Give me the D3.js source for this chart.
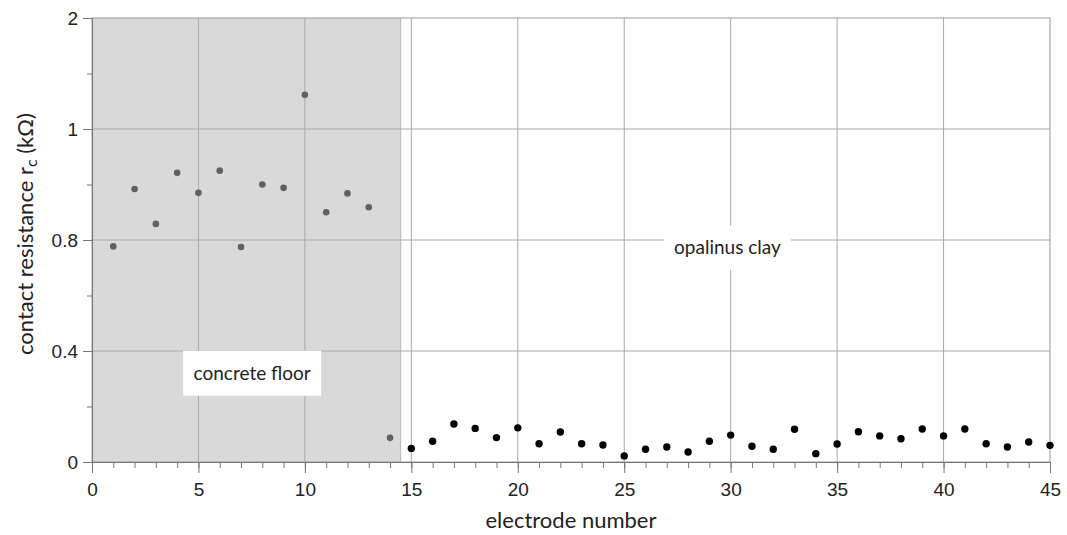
<!DOCTYPE html>
<html>
<head>
<meta charset="utf-8">
<script src="https://cdn.jsdelivr.net/npm/d3@7"></script>
<style>
  body { margin: 0; background: #fff; }
  .tick text { font-family: "Liberation Sans", Arial, sans-serif; font-size: 19px; fill: #222; }
  .title { font-family: Lato, "Open Sans", sans-serif; font-size: 22px; fill: #222; }
  .note { font-family: Lato, "Open Sans", sans-serif; font-size: 19px; fill: #222; }
</style>
</head>
<body>
<div id="chart"></div>
<script>
// data
var concreteElectrodes = [1, 2, 3, 4, 5, 6, 7, 8, 9, 10, 11, 12, 13, 14];
var concreteValues = [0.777, 0.892, 0.829, 0.921, 0.885, 0.925, 0.775, 0.900, 0.894, 1.309, 0.850, 0.884, 0.859, 0.087];
var clayElectrodes = [15, 16, 17, 18, 19, 20, 21, 22, 23, 24, 25, 26, 27, 28, 29, 30,
  31, 32, 33, 34, 35, 36, 37, 38, 39, 40, 41, 42, 43, 44, 45];
var clayValues = [0.049, 0.075, 0.137, 0.121, 0.088, 0.123, 0.066, 0.108, 0.066, 0.061,
  0.022, 0.046, 0.054, 0.036, 0.075, 0.097, 0.057, 0.046, 0.118, 0.030, 0.065, 0.109,
  0.094, 0.084, 0.119, 0.094, 0.119, 0.066, 0.054, 0.072, 0.060];
var xMajorTicks = [0, 5, 10, 15, 20, 25, 30, 35, 40, 45];
var xMinorTicks = d3.range(0, 46);
var yMajorTicks = [0, 0.4, 0.8, 1, 2];
var yMinorTicks = [0.2, 0.6, 0.9, 1.5];
var yGridTicks = [0.4, 0.8, 1];
var concreteEnd = 14.5;

var svgWidth = 1067;
var svgHeight = 535;
var margin = { top: 18, right: 17, bottom: 73, left: 92 };
var width = svgWidth - margin.left - margin.right;
var height = svgHeight - margin.top - margin.bottom;

var svg = d3.select("#chart").append("svg")
  .attr("width", svgWidth)
  .attr("height", svgHeight);

var chartGroup = svg.append("g")
  .attr("transform", `translate(${margin.left}, ${margin.top})`);

var xScale = d3.scaleLinear().domain([0, 45]).range([0, width]);
// the axis is stretched piecewise: equal spacing for 0-0.8, 0.8-1 and 1-2
var yScale = d3.scaleLinear()
  .domain([0, 0.4, 0.8, 1, 2])
  .range([height, height * 0.75, height * 0.5, height * 0.25, 0]);

// concrete floor background
chartGroup.append("rect")
  .attr("x", 0)
  .attr("y", 0)
  .attr("width", xScale(concreteEnd))
  .attr("height", height)
  .attr("fill", "#d9d9d9");
chartGroup.append("line")
  .attr("x1", xScale(concreteEnd)).attr("x2", xScale(concreteEnd))
  .attr("y1", 0).attr("y2", height)
  .attr("stroke", "#b8b8b8");

// grid
chartGroup.append("g").selectAll("line")
  .data(xMajorTicks.filter(d => d > 0 && d < 45))
  .enter().append("line")
  .attr("x1", d => xScale(d)).attr("x2", d => xScale(d))
  .attr("y1", 0).attr("y2", height)
  .attr("stroke", "#a8a8a8");

chartGroup.append("g").selectAll("line")
  .data(yGridTicks)
  .enter().append("line")
  .attr("x1", 0).attr("x2", width)
  .attr("y1", d => yScale(d)).attr("y2", d => yScale(d))
  .attr("stroke", "#a8a8a8");

// frame
chartGroup.append("rect")
  .attr("width", width).attr("height", height)
  .attr("fill", "none")
  .attr("stroke", "#9a9a9a");

// minor ticks
chartGroup.append("g")
  .attr("transform", `translate(0, ${height})`)
  .call(d3.axisBottom(xScale).tickValues(xMinorTicks).tickSize(6).tickFormat(""))
  .call(g => g.select(".domain").remove())
  .selectAll("line").attr("stroke", "#777");

chartGroup.append("g")
  .call(d3.axisLeft(yScale).tickValues(yMinorTicks).tickSize(5).tickFormat(""))
  .call(g => g.select(".domain").remove())
  .selectAll("line").attr("stroke", "#777");

// major axes
var xAxis = chartGroup.append("g")
  .attr("transform", `translate(0, ${height})`)
  .call(d3.axisBottom(xScale).tickValues(xMajorTicks).tickSize(11).tickPadding(10).tickFormat(d3.format("d")));
xAxis.select(".domain").attr("stroke", "#777");
xAxis.selectAll(".tick line").attr("stroke", "#777");

var yAxis = chartGroup.append("g")
  .call(d3.axisLeft(yScale).tickValues(yMajorTicks).tickSize(9).tickPadding(5).tickFormat(d => d));
yAxis.select(".domain").attr("stroke", "#777");
yAxis.selectAll(".tick line").attr("stroke", "#777");

// points
chartGroup.append("g").selectAll("circle")
  .data(concreteElectrodes)
  .enter().append("circle")
  .attr("cx", d => xScale(d))
  .attr("cy", (d, i) => yScale(concreteValues[i]))
  .attr("r", 3.3)
  .attr("fill", "#606060");

chartGroup.append("g").selectAll("circle")
  .data(clayElectrodes)
  .enter().append("circle")
  .attr("cx", d => xScale(d))
  .attr("cy", (d, i) => yScale(clayValues[i]))
  .attr("r", 3.7)
  .attr("fill", "#000");

// region labels
function addNote(text, cx, cy, w, h) {
  chartGroup.append("rect")
    .attr("x", cx - w / 2).attr("y", cy - h / 2)
    .attr("width", w).attr("height", h)
    .attr("fill", "#fff");
  chartGroup.append("text")
    .attr("class", "note")
    .attr("x", cx).attr("y", cy)
    .attr("dy", "0.35em")
    .attr("text-anchor", "middle")
    .text(text);
}
addNote("concrete floor", xScale(7.5) + 0.5, yScale(0.32), 138, 45);
addNote("opalinus clay", xScale(29.85), yScale(0.772), 127, 44);

// axis titles
svg.append("text")
  .attr("class", "title")
  .attr("x", margin.left + width / 2)
  .attr("y", 528)
  .attr("text-anchor", "middle")
  .text("electrode number");

var yTitle = svg.append("text")
  .attr("class", "title")
  .attr("transform", "translate(33, 234) rotate(-90)")
  .attr("text-anchor", "middle");
yTitle.append("tspan").text("contact resistance r");
yTitle.append("tspan").attr("font-size", "16px").attr("dy", "4").text("c");
yTitle.append("tspan").attr("dy", "-4").text(" (k\u03A9)");
</script>
</body>
</html>
